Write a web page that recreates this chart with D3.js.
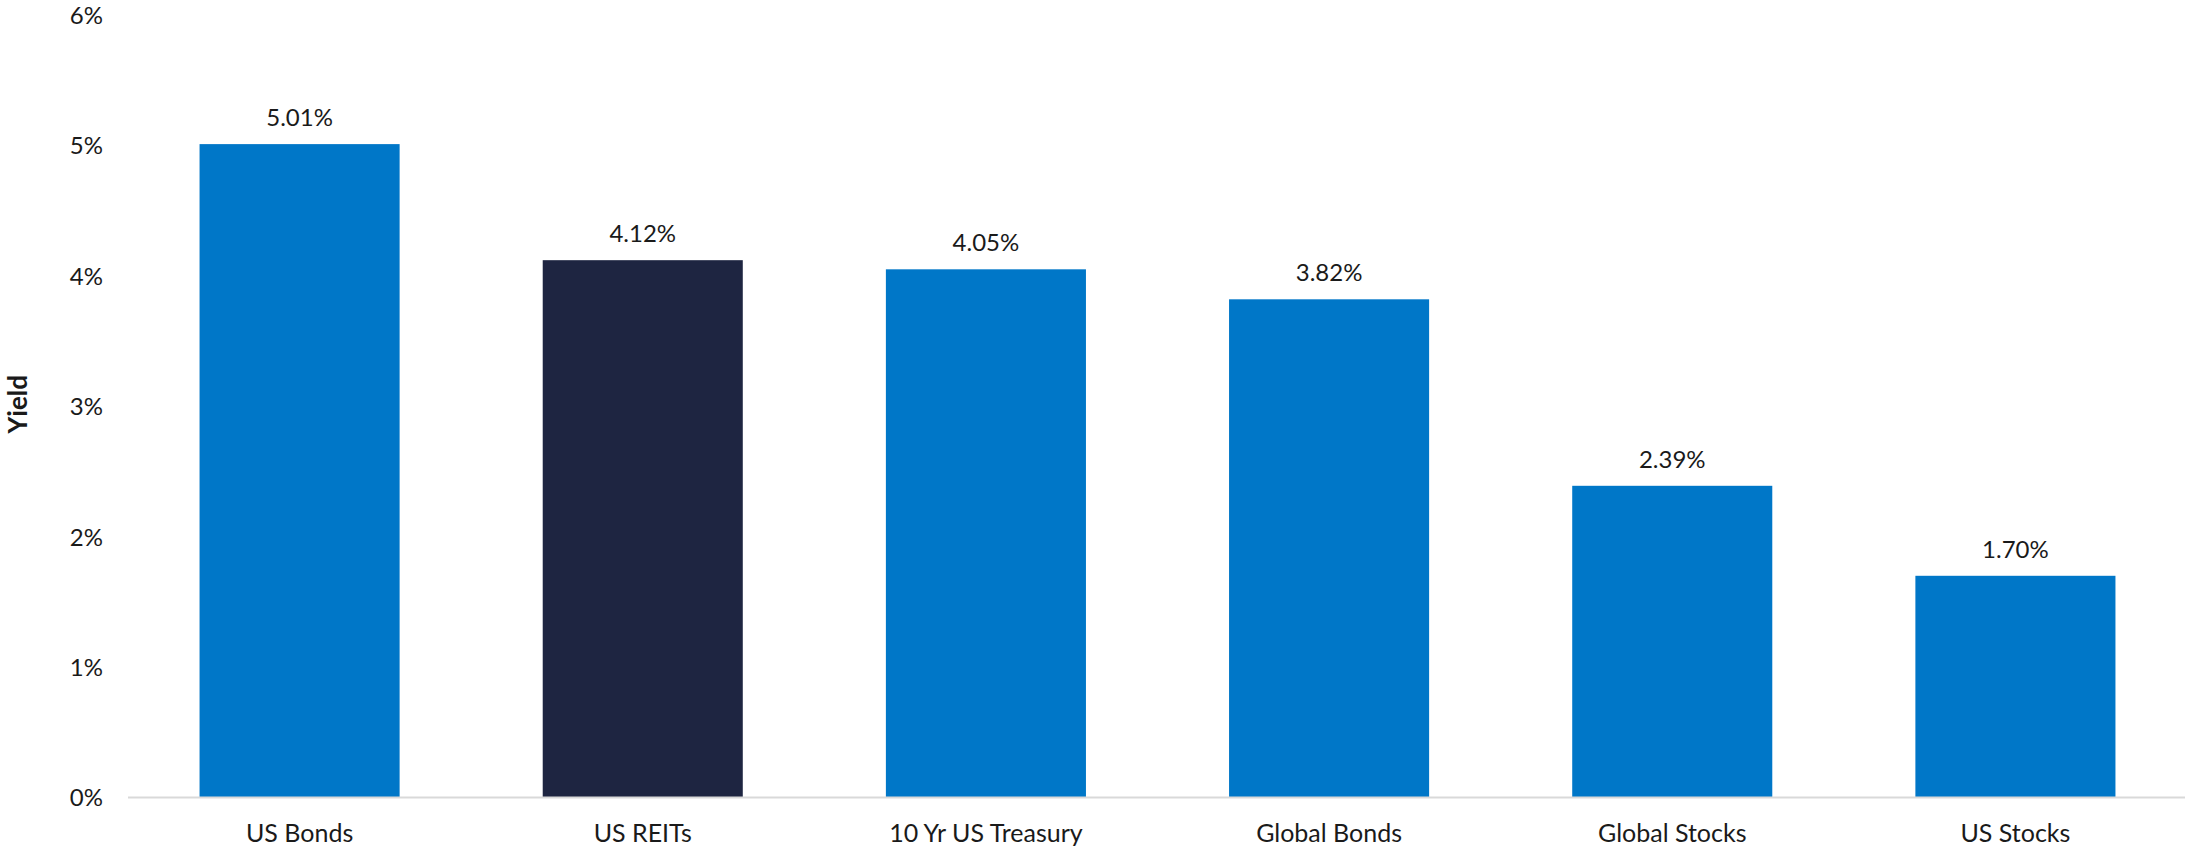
<!DOCTYPE html>
<html>
<head>
<meta charset="utf-8">
<script src="https://cdn.jsdelivr.net/npm/d3@7"></script>
<style>
  html, body { margin: 0; padding: 0; background: #fff; }
  svg { display: block; }
  text { font-family: Lato, "Liberation Sans", sans-serif; fill: #1a1a1a; }
</style>
</head>
<body>
<svg id="chart" width="2185" height="846"></svg>
<script>
// Yield by asset class
const categories = ["US Bonds", "US REITs", "10 Yr US Treasury", "Global Bonds", "Global Stocks", "US Stocks"];
const yields = [5.01, 4.12, 4.05, 3.82, 2.39, 1.70];
const highlight = ["US REITs"];
const yTicks = [0, 1, 2, 3, 4, 5, 6];
const yTickLabels = ["0%", "1%", "2%", "3%", "4%", "5%", "6%"];

const W = 2185, H = 846;
const plot = { left: 128, right: 2187, top: 15, bottom: 797.5 };

const svg = d3.select("#chart");

const x = d3.scaleBand()
  .domain(categories)
  .range([plot.left, plot.right])
  .paddingInner(0.417)
  .paddingOuter(0.2085);

const y = d3.scaleLinear()
  .domain([0, 6])
  .range([plot.bottom, plot.top]);

// Bars
svg.append("g")
  .selectAll("rect")
  .data(categories)
  .join("rect")
  .attr("x", d => x(d))
  .attr("width", x.bandwidth())
  .attr("y", (d, i) => y(yields[i]))
  .attr("height", (d, i) => y(0) - y(yields[i]))
  .attr("fill", d => highlight.includes(d) ? "#1e2541" : "#0077c8");

// Value labels
svg.append("g")
  .selectAll("text")
  .data(categories)
  .join("text")
  .attr("x", d => x(d) + x.bandwidth() / 2)
  .attr("y", (d, i) => y(yields[i]) - 18)
  .attr("text-anchor", "middle")
  .style("font-size", "24px")
  .text((d, i) => yields[i].toFixed(2) + "%");

// Baseline
svg.append("line")
  .attr("x1", plot.left).attr("x2", W)
  .attr("y1", y(0)).attr("y2", y(0))
  .attr("stroke", "#d9d9d9")
  .attr("stroke-width", 2);

// Y axis tick labels
const yAxis = d3.axisLeft(y)
  .tickValues(yTicks)
  .tickFormat((d, i) => yTickLabels[i])
  .tickSize(0)
  .tickPadding(0);
const gy = svg.append("g")
  .attr("transform", `translate(${103},0)`)
  .call(yAxis);
gy.select(".domain").remove();
gy.selectAll("text")
  .attr("dy", "0.35em")
  .style("font-size", "24px")
  .style("font-family", "Lato, 'Liberation Sans', sans-serif")
  .attr("fill", "#1a1a1a");

// X axis category labels
const xAxis = d3.axisBottom(x).tickSize(0).tickPadding(0);
const gx = svg.append("g")
  .attr("transform", `translate(0,${plot.bottom})`)
  .call(xAxis);
gx.select(".domain").remove();
gx.selectAll("text")
  .attr("y", 0)
  .attr("dy", 0)
  .attr("transform", "translate(0,44)")
  .style("font-size", "25px")
  .style("font-family", "Lato, 'Liberation Sans', sans-serif")
  .attr("fill", "#1a1a1a");

// Y axis title
svg.append("text")
  .attr("transform", `translate(27,${(plot.top + plot.bottom) / 2 - 2}) rotate(-90)`)
  .attr("text-anchor", "middle")
  .style("font-size", "26px")
  .style("font-weight", "bold")
  .text("Yield");
</script>
</body>
</html>
